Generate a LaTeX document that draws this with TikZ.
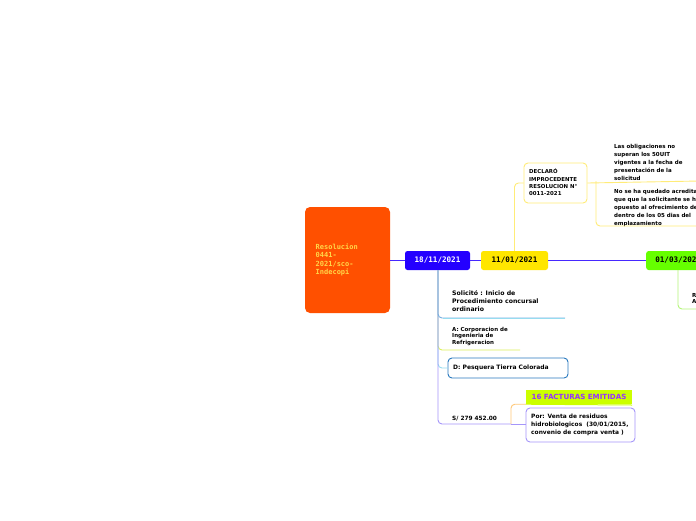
\documentclass[tikz,border=0pt]{standalone}
\usepackage{fontspec}
\setmainfont{DejaVu Sans}
\newfontfamily\datefont{DejaVu Sans Mono}
\usetikzlibrary{positioning}
\definecolor{resorange}{RGB}{255,80,0}
\definecolor{resyellow}{RGB}{255,214,72}
\definecolor{dateblue}{RGB}{36,0,255}
\definecolor{mainline}{RGB}{70,40,255}
\definecolor{dateyellow}{RGB}{255,230,0}
\definecolor{dategreen}{RGB}{102,255,0}
\definecolor{paleyellow}{RGB}{255,236,120}
\definecolor{solblue}{RGB}{120,175,225}
\definecolor{solcyan}{RGB}{150,220,240}
\definecolor{limeline}{RGB}{220,240,90}
\definecolor{pesqblue}{RGB}{40,120,190}
\definecolor{lavline}{RGB}{165,150,250}
\definecolor{factlime}{RGB}{204,255,0}
\definecolor{factpurple}{RGB}{150,50,255}
\definecolor{factorange}{RGB}{255,200,120}
\definecolor{greenline}{RGB}{180,245,120}

\tikzset{
  datebox/.style={rounded corners=2.5pt,minimum width=65pt,minimum height=19pt,inner sep=0pt,
    font=\datefont\fontsize{7.6}{9}\selectfont\bfseries},
  leaf/.style={anchor=north west,align=left,inner sep=0pt,font=\fontsize{6.2}{7.7}\selectfont\bfseries},
  smallleaf/.style={leaf,font=\fontsize{5.5}{6.6}\selectfont\bfseries},
  framed/.style={draw,rounded corners=4pt,line width=0.9pt,fill=white},
  link/.style={line width=0.9pt,rounded corners=4pt}
}

\begin{document}
\begin{tikzpicture}[x=1pt,y=-1pt]
\clip (0,0) rectangle (696,520);
\fill[white] (0,0) rectangle (696,520);

% central topic
\node[fill=resorange,rounded corners=5pt,minimum width=85pt,minimum height=106pt,inner sep=0pt] (res) at (347.5,260) {};
\node[anchor=north west,align=left,inner sep=0pt,text=resyellow,
  font=\datefont\fontsize{7}{8.5}\selectfont\bfseries] (restext) at (315.5,243.5)
  {Resolucion\\0441-\\2021/sco-\\Indecopi};

% dates on the main line
\node[datebox,fill=dateblue,text=white] (d1811) at (437.5,260.5) {18/11/2021};
\node[datebox,fill=dateyellow,minimum width=67pt] (d1101) at (514.5,260.5) {11/01/2021};
\node[datebox,fill=dategreen,minimum width=70pt,anchor=west] (d0103) at (646,260.5) {\hspace*{-6pt}01/03/2021};

\draw[mainline,line width=1pt] (res.east |- d1811) -- (d1811.west);
\draw[mainline,line width=1pt] (d1811) -- (d1101);
\draw[mainline,line width=1pt] (d1101) -- (d0103);

% 11/01/2021 branch
\node[framed,draw=paleyellow,minimum width=63pt,minimum height=40pt] (declaro) at (555.5,183) {};
\node[leaf,font=\fontsize{5.4}{7.4}\selectfont\bfseries] (declarotext) at (529,168.5)
  {DECLARÓ\\IMPROCEDENTE\\RESOLUCION N°\\0011-2021};
\draw[link,paleyellow] (d1101.north) |- (declaro.west);

\node[smallleaf,font=\fontsize{5.5}{8}\selectfont\bfseries] (oblig) at (614,144)
  { Las obligaciones no\\superan los 50UIT\\vigentes a la fecha de\\presentación de la\\solicitud};
\node[smallleaf,font=\fontsize{5.5}{8}\selectfont\bfseries] (acred) at (614,189.5)
  {No se ha quedado acreditado\\que que la solicitante se haya\\opuesto al ofrecimiento de pago\\dentro de los 05 dias del\\emplazamiento};
\coordinate (obligU) at (700,181);
\coordinate (acredU) at (700,226);
\draw[link,paleyellow] (declaro.east) -- (obligU);
\draw[link,paleyellow] (596,181) |- (acredU);

% 18/11/2021 branch
\node[leaf] (solic) at (452,290.5) {Solicitó : Inicio de\\Procedimiento concursal\\ordinario};
\node[smallleaf] (corp) at (452,327) {A: Corporacion de\\Ingenieria de\\Refrigeracion};
\node[framed,draw=pesqblue,minimum width=120pt,minimum height=20pt] (pesq) at (508,368) {};
\node[leaf,anchor=west,font=\fontsize{6}{7}\selectfont\bfseries] (pesqtext) at (453,368) {D: Pesquera Tierra Colorada};
\node[leaf,font=\fontsize{5.8}{7}\selectfont\bfseries] (monto) at (452,416) {S/ 279 452.00};

\coordinate (solicU) at (565,318);
\coordinate (corpU) at (520,350);
\coordinate (montoU) at (511,424);
\draw[link,limeline] (d1811.south -| 438,0) |- (corpU);
\draw[link,solcyan] (d1811.south -| 438,0) |- (pesq.west);
\draw[link,lavline] (d1811.south -| 438,0) |- (montoU);
\draw[link,solblue] (d1811.south -| 438,0) |- (solicU);
\draw[solcyan,line width=0.9pt] (443,318) -- (solicU);

% facturas
\node[fill=factlime,text=factpurple,minimum width=106pt,minimum height=14pt,inner sep=0pt,
  font=\fontsize{7.1}{8}\selectfont\bfseries] (fact) at (579,397) {16 FACTURAS EMITIDAS};
\coordinate (factU) at (632,405);
\node[framed,draw=lavline,minimum width=109pt,minimum height=34pt] (venta) at (580.5,425) {};
\node[smallleaf,font=\fontsize{5.9}{7.9}\selectfont\bfseries] (ventatext) at (531,414)
  {Por: Venta de residuos\\hidrobiologicos~ (30/01/2015,\\convenio de compra venta )};
\draw[link,factorange] (montoU) |- (fact.south west);
\draw[factlime,line width=1pt] (fact.south west) -- (factU);
\draw[link,lavline] (montoU) -- (venta.west |- montoU);

% 01/03/2021 branch
\coordinate (rightU) at (700,309);
\draw[link,greenline] (d0103.south -| 678,0) |- (rightU);
\node[smallleaf] (rtext) at (692,293) {R\\A};
\end{tikzpicture}
\end{document}
